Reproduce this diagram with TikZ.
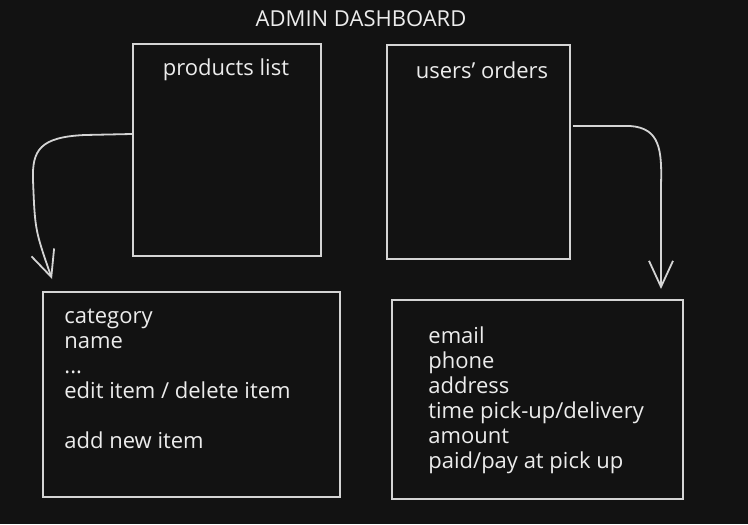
\documentclass[tikz,border=0pt]{standalone}
\usepackage{fontspec}
\setmainfont{Open Sans}
\usetikzlibrary{arrows.meta, calc}

\definecolor{bgdark}{HTML}{121212}
\definecolor{inkline}{HTML}{D4D4D4}
\definecolor{inktext}{HTML}{ECECEC}

\begin{document}
\begin{tikzpicture}[
  x=0.5pt, y=-0.5pt,
  panel/.style={draw=inkline, line width=1pt, rectangle, inner sep=0pt},
  heading/.style={text=inktext, font=\fontsize{11}{13}\selectfont},
  itemlist/.style={text=inktext, align=left, anchor=north west, inner sep=0pt,
                   font=\fontsize{11}{12.5}\selectfont},
  flow/.style={draw=inkline, line width=0.9pt,
               -{Straight Barb[length=13pt, width=12pt, line width=0.9pt]}},
]
  % ---- canvas ----
  \fill[bgdark] (0,0) rectangle (748,524);
  \useasboundingbox (0,0) rectangle (748,524);

  % ---- title ----
  \node[heading] (title) at (361,19) {ADMIN DASHBOARD};

  % ---- top panels ----
  \node[panel, minimum width=94pt,  minimum height=106pt] (prodlist) at (227,150) {};
  \node[panel, minimum width=91.5pt, minimum height=107pt] (orders)  at (478.5,152) {};
  \node[heading] (prodlabel)  at (226,70) {products list};
  \node[heading] (orderlabel) at (482,70) {users' orders};

  % ---- detail panels ----
  \node[panel, minimum width=148.5pt, minimum height=102.5pt] (proddetail)  at (191.5,394.5) {};
  \node[panel, minimum width=145.5pt, minimum height=99.5pt]  (orderdetail) at (537.5,399.5) {};

  \node[itemlist] (prodtext) at (64,309)
    {category\\name\\...\\edit item / delete item\\[12.5pt]add new item};
  \node[itemlist] (ordertext) at (428,326)
    {email\\phone\\address\\time pick-up/delivery\\amount\\paid/pay at pick up};

  % ==== ARROWS ====
  \coordinate (prodtip)  at ($(proddetail.north west)+(10,-12)$);
  \coordinate (ordertip) at ($(orderdetail.north east)+(-23,-10)$);

  \draw[flow] ($(prodlist.west)+(0,-16)$) -- (85,135)
    .. controls (40,137) and (32,150) .. (33,180)
    .. controls (35,230) .. (prodtip);                                   % products list -> details
  \draw[flow] ($(orders.east)+(2,-26)$) -- (630,126)
    .. controls (660,128) and (662,150) .. (661,185) -- (ordertip);      % orders -> details
\end{tikzpicture}
\end{document}
